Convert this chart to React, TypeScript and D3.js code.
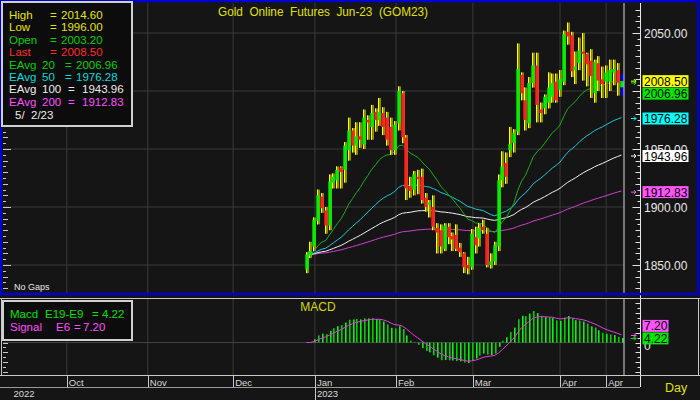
import React, { useEffect } from 'react';
import * as d3 from 'd3';

// ---------- data (daily OHLC, Gold Jun-23 futures) ----------
const opens = [1846, 1858, 1866, 1888, 1909, 1897, 1884, 1921, 1923, 1934, 1932, 1949, 1966, 1953, 1961, 1954, 1975, 1969, 1982, 1975, 1981, 1977, 1969, 1949, 1972, 1998, 1960, 1918, 1915, 1926, 1926, 1908, 1902, 1900, 1882, 1880, 1864, 1883, 1875, 1876, 1865, 1860, 1850, 1848, 1874, 1873, 1883, 1877, 1850, 1853, 1866, 1923, 1938, 1949, 1955, 1965, 2014, 1992, 1972, 2007, 2022, 1984, 1985, 1990, 1995, 2008, 2001, 2008, 2051, 2048, 2018, 2024, 2034, 2032, 2026, 1998, 2024, 2010, 2008, 2008, 2016, 2018, 2003.2];
const highs = [1861, 1870, 1891, 1915, 1912, 1900, 1928, 1929, 1935, 1935, 1956, 1977, 1968, 1973, 1973, 1984, 1979, 1988, 1985, 1994, 1986, 1982, 1977, 1974, 2004, 2000, 1962, 1926, 1931, 1932, 1933, 1912, 1906, 1910, 1886, 1885, 1886, 1886, 1878, 1885, 1869, 1861, 1857, 1881, 1883, 1886, 1889, 1882, 1860, 1870, 1928, 1948, 1947, 1969, 1967, 2041, 2016, 2003, 2012, 2033, 2033, 1990, 1997, 2016, 2015, 2015, 2018, 2052, 2059, 2051, 2034, 2046, 2050, 2033, 2036, 2027, 2030, 2021, 2022, 2027, 2027, 2024, 2014.6];
const lows = [1843, 1856, 1862, 1885, 1895, 1877, 1880, 1916, 1916, 1916, 1921, 1940, 1947, 1945, 1951, 1950, 1958, 1958, 1965, 1970, 1962, 1953, 1945, 1945, 1966, 1955, 1906, 1908, 1910, 1911, 1903, 1896, 1891, 1880, 1860, 1860, 1862, 1868, 1862, 1862, 1857, 1843, 1842, 1846, 1860, 1866, 1877, 1848, 1847, 1850, 1862, 1917, 1920, 1943, 1947, 1962, 1992, 1966, 1968, 2003, 1973, 1973, 1980, 1985, 1990, 1990, 1995, 2005, 2040, 2012, 2006, 2018, 2009, 2004, 1994, 1990, 2000, 1994, 1994, 2000, 2005, 1996, 1996];
const closes = [1859, 1862, 1889, 1910, 1899, 1884, 1922, 1926, 1932, 1930, 1953, 1966, 1953, 1961, 1958, 1977, 1973, 1981, 1975, 1982, 1969, 1958, 1949, 1971, 2000, 1960, 1916, 1914, 1928, 1924, 1906, 1900, 1904, 1883, 1878, 1866, 1884, 1874, 1872, 1864, 1861, 1848, 1847, 1877, 1867, 1882, 1880, 1850, 1853, 1867, 1923, 1935, 1926, 1954, 1964, 2019, 1998, 1975, 2007, 2022, 1988, 1981, 1995, 2003, 2007, 1992, 2010, 2049, 2047, 2017, 2021, 2035, 2032, 2023, 2013, 2025, 2009, 2006, 2016, 2018, 2019, 2007, 2008.5];

const emaPeriods = [20, 50, 100, 200];
const macdFast = 9;
const macdSlow = 19;
const macdSignal = 6;

const priceTicks = [1850, 1900, 1950, 2000, 2050];
const monthLabels = ['Oct', 'Nov', 'Dec', 'Jan', 'Feb', 'Mar', 'Apr', 'Apr'];
const monthBars = [-62.4, -41.3, -19.1, 2.2, 23.3, 43.3, 66.0, 78.0];
const yearLabels = ['2022', '2023'];
const yearBars = [-76.8, 2.2];

const title = 'Gold  Online  Futures  Jun-23  (GOM23)';
const legendNames = ['High', 'Low', 'Open', 'Last', 'EAvg 20', 'EAvg 50', 'EAvg 100', 'EAvg 200'];
const legendValues = [2014.6, 1996.0, 2003.2, 2008.5, 2006.96, 1976.28, 1943.96, 1912.83];
const legendDate = '5/  2/23';
const macdLegendNames = ['Macd E19-E9', 'Signal E6'];
const macdLegendValues = [4.22, 7.2];

// ---------- styles ----------
const FONT = "'Liberation Sans', Arial, sans-serif";
const BG = '#151515';
const GRID = '#3a3a3a';
const legendColors = ['#e6e600', '#e6e600', '#00d000', '#ff2a2a', '#00d000', '#00dede', '#ececec', '#ff4cff'];
const emaColors = ['#16b016', '#1cc8d4', '#f0f0f0', '#d040d0'];
const boxColors = ['#ffff00', '#00e800', '#00ffff', '#ffffff', '#ff55ff'];

function ema(values: number[], n: number): number[] {
  const a = 2 / (n + 1);
  const out: number[] = [];
  values.forEach((v, i) => out.push(i === 0 ? v : out[i - 1] + a * (v - out[i - 1])));
  return out;
}

export default function App() {
  useEffect(() => {
    document.body.style.margin = '0';
  }, []);

  const n = closes.length;
  const xBar = d3.scaleLinear().domain([0, n - 1]).range([306.5, 621.5]);
  const yPrice = d3.scaleLinear().domain([1850, 2050]).range([265, 33]);

  const emas = emaPeriods.map((p) => ema(closes, p));
  const fast = ema(closes, macdFast);
  const slow = ema(closes, macdSlow);
  const macd = fast.map((v, i) => v - slow[i]);
  const signal = ema(macd, macdSignal);
  const mExt = d3.extent([...macd, ...signal]) as [number, number];
  const yMacd = d3.scaleLinear().domain(mExt).range([363, 311]);

  const plotL = 3;
  const plotR = 624;
  const mainTop = 3;
  const mainBot = 293;
  const mTop = 298;
  const mBot = 375;

  const emaLine = d3
    .line<number>()
    .x((_, i) => xBar(i))
    .y((v) => yPrice(v));
  const sigLine = d3
    .line<number>()
    .x((_, i) => xBar(i))
    .y((v) => yMacd(v));

  // price axis ticks
  const minorTicks = d3.range(1830, 2080, 5).filter((v) => yPrice(v) > mainTop + 2 && yPrice(v) < mainBot - 2);
  const tickLen = (v: number) => (v % 50 === 0 ? 8 : v % 10 === 0 ? 5 : 3);

  // right value boxes (main) - push down to avoid overlaps
  const boxVals = legendValues.slice(3);
  const boxTexts = boxVals.map((v) => v.toFixed(2));
  const boxY: number[] = [];
  boxVals
    .map((v, i) => ({ i, y: yPrice(v) }))
    .sort((a, b) => a.y - b.y)
    .forEach((o, k, arr) => {
      let y = o.y;
      if (k > 0) {
        const prev = boxY[arr[k - 1].i];
        if (y < prev + 12.5) y = prev + 12.5;
      }
      boxY[o.i] = y;
    });
  // tick labels completely hidden by a value box are not drawn
  const visibleTicks = priceTicks.filter((t) => !boxY.some((by) => Math.abs(by - yPrice(t)) < 5));

  // macd boxes - push up from the bottom
  const mBoxY: number[] = [];
  macdLegendValues
    .map((v, i) => ({ i, y: yMacd(v) }))
    .sort((a, b) => b.y - a.y)
    .forEach((o, k, arr) => {
      let y = o.y;
      if (k > 0) {
        const prev = mBoxY[arr[k - 1].i];
        if (y > prev - 12.5) y = prev - 12.5;
      }
      mBoxY[o.i] = y;
    });
  const mBoxColors = ['#00e800', '#ff55ff'];

  const macdTicks = d3.range(-60, 80, 5).filter((v) => yMacd(v) > mTop + 3 && yMacd(v) < mBot - 2);
  const y0 = yMacd(0);

  return (
    <svg
      width={700}
      height={400}
      style={{ display: 'block', position: 'absolute', left: 0, top: 0 }}
      fontFamily={FONT}
    >
      <rect x={0} y={0} width={700} height={400} fill={BG} />

      {/* grid - main */}
      {priceTicks.map((t) => (
        <line key={'hg' + t} x1={plotL} x2={plotR} y1={yPrice(t)} y2={yPrice(t)} stroke={GRID} />
      ))}
      {monthBars.map((b, i) => (
        <g key={'vg' + i}>
          <line x1={xBar(b)} x2={xBar(b)} y1={mainTop} y2={mainBot} stroke={GRID} />
          <line x1={xBar(b)} x2={xBar(b)} y1={mTop} y2={mBot} stroke={GRID} />
        </g>
      ))}
      {/* macd zero line */}
      <line x1={plotL} x2={plotR} y1={y0} y2={y0} stroke="#444" />

      {/* EMAs (long first) */}
      {emas
        .map((e, k) => ({ e, k }))
        .reverse()
        .map(({ e, k }) => (
          <path key={'ema' + k} d={emaLine(e) || ''} fill="none" stroke={emaColors[k]} strokeWidth={1} />
        ))}

      {/* candles */}
      {closes.map((c, i) => {
        const cx = Math.round(xBar(i));
        const o = opens[i];
        const yh = yPrice(highs[i]);
        const yl = yPrice(lows[i]);
        const top = yPrice(Math.max(o, c));
        const bot = yPrice(Math.min(o, c));
        const last = i === n - 1;
        return (
          <g key={'c' + i}>
            <rect x={cx - 1} y={yh} width={3} height={yl - yh} fill={last ? '#0000ff' : '#8c8c00'} />
            {!last && <rect x={cx - 1} y={yh} width={1} height={yl - yh} fill="#ffff00" />}
            <rect
              x={cx - 1.7}
              y={top}
              width={3.4}
              height={Math.max(1.5, bot - top)}
              fill={c >= o ? '#00f000' : '#ff2020'}
            />
          </g>
        );
      })}

      {/* MACD histogram + signal */}
      {macd.map((v, i) => {
        const x = Math.round(xBar(i));
        const yv = yMacd(v);
        return (
          <rect
            key={'h' + i}
            x={x}
            y={Math.min(y0, yv)}
            width={1.6}
            height={Math.abs(yv - y0)}
            fill={i % 2 ? '#00d000' : '#10f010'}
          />
        );
      })}
      <path d={sigLine(signal) || ''} fill="none" stroke="#e040e0" strokeWidth={1} />

      {/* current-bar line */}
      <line x1={plotR} x2={plotR} y1={mainTop} y2={mainBot} stroke="#d8d8d8" />
      <line x1={plotR} x2={plotR} y1={mTop} y2={mBot} stroke="#d8d8d8" />

      {/* price axis */}
      <line x1={640.5} x2={640.5} y1={mainTop} y2={387} stroke="#e8e8e8" />
      {minorTicks.map((v) => (
        <g key={'t' + v}>
          <line x1={640.5 - tickLen(v)} x2={640.5} y1={Math.round(yPrice(v)) + 0.5} y2={Math.round(yPrice(v)) + 0.5} stroke="#e0e0e0" />
          <line x1={3} x2={3 + tickLen(v)} y1={Math.round(yPrice(v)) + 0.5} y2={Math.round(yPrice(v)) + 0.5} stroke="#c8c8c8" />
        </g>
      ))}
      {visibleTicks.map((t) => (
        <text key={'pl' + t} x={644} y={yPrice(t) + 4.5} fontSize={12} fill="#e8e8e8">
          {t.toFixed(2)}
        </text>
      ))}

      {/* right value boxes */}
      {boxVals.map((v, i) => (
        <g key={'bx' + i}>
          <path
            d={`M631,${yPrice(v)}h5m-2,-2l2,2l-2,2`}
            stroke={boxColors[i]}
            fill="none"
            strokeWidth={1}
          />
          <rect x={642.5} y={boxY[i] - 6} width={46} height={12} fill={boxColors[i]} />
          <text x={644} y={boxY[i] + 4.5} fontSize={12} fill="#000">
            {boxTexts[i]}
          </text>
        </g>
      ))}

      {/* macd axis */}
      {macdTicks.map((v) => (
        <g key={'mt' + v}>
          <line x1={v % 10 === 0 ? 635.5 : 637.5} x2={640.5} y1={Math.round(yMacd(v)) + 0.5} y2={Math.round(yMacd(v)) + 0.5} stroke="#e0e0e0" />
          <line x1={3} x2={v % 10 === 0 ? 8 : 6} y1={Math.round(yMacd(v)) + 0.5} y2={Math.round(yMacd(v)) + 0.5} stroke="#c8c8c8" />
        </g>
      ))}
      <text x={644} y={y0 + 7} fontSize={12} fill="#e8e8e8">0</text>
      {macdLegendValues.map((v, i) => (
        <g key={'mb' + i}>
          <path d={`M631,${yMacd(v)}h5m-2,-2l2,2l-2,2`} stroke={mBoxColors[i]} fill="none" />
          <rect x={642.5} y={mBoxY[i] - 6} width={26} height={12} fill={mBoxColors[i]} />
          <text x={644} y={mBoxY[i] + 4.5} fontSize={12} fill="#000">
            {v.toFixed(2)}
          </text>
        </g>
      ))}

      {/* panel borders */}
      <rect x={1} y={1} width={697} height={293} fill="none" stroke="#0000d0" strokeWidth={2.5} />
      <line x1={0} x2={700} y1={298.5} y2={298.5} stroke="#c8c8c8" />
      <line x1={0} x2={700} y1={375.5} y2={375.5} stroke="#c8c8c8" />
      <line x1={1.5} x2={1.5} y1={298} y2={376} stroke="#c8c8c8" />
      <line x1={698.5} x2={698.5} y1={298} y2={376} stroke="#c8c8c8" />

      {/* title */}
      <text x={218} y={16} fontSize={12} fill="#e0e000" textLength={210} lengthAdjust="spacingAndGlyphs" style={{ whiteSpace: 'pre' }}>
        {title}
      </text>
      <text x={14} y={290} fontSize={9} fill="#e8e8e8">No  Gaps</text>

      {/* main legend */}
      <rect x={2} y={2} width={130} height={124} fill="#0c0c0c" stroke="#d0d0d0" strokeWidth={2} />
      {legendNames.map((name, i) => {
        const parts = name.split(' ');
        const y = 19 + i * 12.4;
        const eqX = parts.length === 1 ? 50 : parts[1].length === 2 ? 65 : 68;
        const valX = parts.length === 1 ? 61 : parts[1].length === 2 ? 76 : 82;
        return (
          <g key={'lg' + i} fill={legendColors[i]} fontSize={11.5}>
            <text x={9} y={y}>{parts[0]}</text>
            {parts[1] && <text x={42} y={y}>{parts[1]}</text>}
            <text x={eqX} y={y}>=</text>
            <text x={valX} y={y}>{legendValues[i].toFixed(2)}</text>
          </g>
        );
      })}
      <text x={15} y={119} fontSize={11.5} fill="#ececec" style={{ whiteSpace: 'pre' }}>
        {legendDate}
      </text>

      {/* MACD legend + label */}
      <text x={318} y={311} fontSize={12} fill="#d8d800" textAnchor="middle">MACD</text>
      <rect x={3} y={301} width={129} height={39} fill="#0c0c0c" stroke="#d0d0d0" strokeWidth={2} />
      {macdLegendNames.map((name, i) => {
        const parts = name.split(' ');
        const y = 318 + i * 13;
        const c = i === 0 ? '#00e000' : '#ff4cff';
        const secX = i === 0 ? 45 : 56;
        const eqX = i === 0 ? 92 : 74;
        const valX = i === 0 ? 102 : 83;
        return (
          <g key={'ml' + i} fill={c} fontSize={11.5}>
            <text x={10} y={y}>{parts[0]}</text>
            <text x={secX} y={y}>{parts[1]}</text>
            <text x={eqX} y={y}>=</text>
            <text x={valX} y={y}>{macdLegendValues[i].toFixed(2)}</text>
          </g>
        );
      })}

      {/* time axis */}
      {monthBars.map((b, i) => (
        <g key={'m' + i}>
          <line x1={Math.round(xBar(b)) + 0.5} x2={Math.round(xBar(b)) + 0.5} y1={376} y2={387} stroke="#c8c8c8" />
          <text x={xBar(b) + 2} y={386} fontSize={9.5} fill="#d8d8d8">{monthLabels[i]}</text>
        </g>
      ))}
      <line x1={0} x2={640} y1={387.5} y2={387.5} stroke="#9a9a9a" />
      {yearLabels.map((yl, i) => (
        <g key={'y' + i}>
          {i > 0 && (
            <line x1={Math.round(xBar(yearBars[i])) + 0.5} x2={Math.round(xBar(yearBars[i])) + 0.5} y1={387} y2={400} stroke="#c8c8c8" />
          )}
          <text x={xBar(yearBars[i]) + 2} y={397} fontSize={9.5} fill="#d8d8d8">{yl}</text>
        </g>
      ))}
      <text x={665} y={392} fontSize={12.5} fill="#e0e000">Day</text>
    </svg>
  );
}
